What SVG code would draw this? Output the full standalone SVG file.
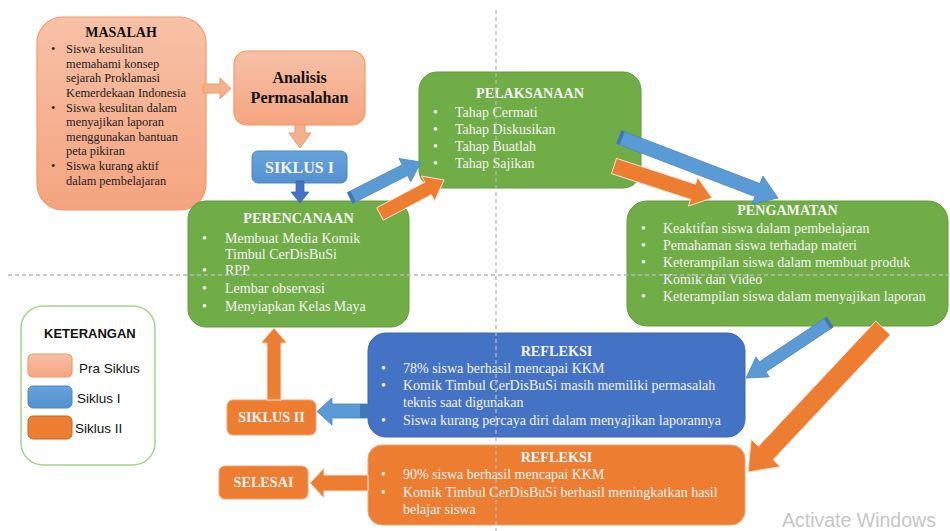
<svg xmlns="http://www.w3.org/2000/svg" width="950" height="531" viewBox="0 0 950 531">
<defs>
<linearGradient id="gPra" x1="0" y1="0" x2="0" y2="1"><stop offset="0" stop-color="#f7c1a7"/><stop offset="1" stop-color="#f4a47f"/></linearGradient>
<linearGradient id="gS1" x1="0" y1="0" x2="0" y2="1"><stop offset="0" stop-color="#67a3dc"/><stop offset="1" stop-color="#5391cf"/></linearGradient>
<style>
.pra{fill:url(#gPra);stroke:#f29a68;stroke-width:1.2}
.s1{fill:url(#gS1);stroke:#4d88c2;stroke-width:1}
.grn{fill:#70ad47;stroke:#63993e;stroke-width:1}
.blu{fill:#4472c4;stroke:#3d66b0;stroke-width:1}
.org{fill:#ed7d31;stroke:#f2a273;stroke-width:1}
.t{font-family:"Liberation Serif","Times New Roman",serif;font-size:14px;fill:#f4f4f4}
.tb{font-family:"Liberation Serif","Times New Roman",serif;font-weight:bold;fill:#f4f4f4;text-anchor:middle}
.dk{font-family:"Liberation Serif","Times New Roman",serif;font-size:12.4px;fill:#222}
.lg{font-family:"Liberation Sans",Arial,sans-serif;font-size:13.5px;fill:#111}
.aB{fill:#5b9bd5;stroke:#4a86bf;stroke-width:0.8}
.aO{fill:#ed7d31;stroke:#fbe0cf;stroke-width:1}
.aP{fill:#f4b08d;stroke:#f19a68;stroke-width:1}
.dash{stroke:#b8b8b8;stroke-width:1.3;stroke-dasharray:4 3;fill:none}
</style>
</defs>

<g id="masalah">
<rect class="pra" x="37" y="17" width="169" height="193" rx="26"/>
<text x="121" y="37" text-anchor="middle" font-family="Liberation Serif, Times New Roman, serif" font-weight="bold" font-size="14" fill="#111">MASALAH</text>
<g class="dk">
<text x="51" y="53">•</text><text x="66" y="53">Siswa kesulitan</text>
<text x="66" y="67.5">memahami konsep</text>
<text x="66" y="82">sejarah Proklamasi</text>
<text x="66" y="96.5">Kemerdekaan Indonesia</text>
<text x="51" y="111.5">•</text><text x="66" y="111.5">Siswa kesulitan dalam</text>
<text x="66" y="126">menyajikan laporan</text>
<text x="66" y="140.5">menggunakan bantuan</text>
<text x="66" y="155">peta pikiran</text>
<text x="51" y="170">•</text><text x="66" y="170">Siswa kurang aktif</text>
<text x="66" y="184.5">dalam pembelajaran</text>
</g>
</g>

<g id="analisis">
<rect class="pra" x="234" y="51" width="131" height="74" rx="13"/>
<text x="299.5" y="83" text-anchor="middle" font-family="Liberation Serif, Times New Roman, serif" font-weight="bold" font-size="16" fill="#111">Analisis</text>
<text x="299.5" y="103" text-anchor="middle" font-family="Liberation Serif, Times New Roman, serif" font-weight="bold" font-size="16" fill="#111">Permasalahan</text>
</g>

<g id="siklus1">
<rect class="s1" x="252" y="151" width="95" height="32" rx="6"/>
<text class="tb" x="299.5" y="173" font-size="16">SIKLUS I</text>
</g>

<g id="perencanaan">
<rect class="grn" x="188" y="201" width="221" height="126" rx="18"/>
<text class="tb" x="298.5" y="223" font-size="14.3">PERENCANAAN</text>
<g class="t">
<text x="202" y="243">•</text><text x="225" y="243">Membuat Media Komik</text>
<text x="225" y="259">Timbul CerDisBuSi</text>
<text x="202" y="275">•</text><text x="225" y="275">RPP</text>
<text x="202" y="293">•</text><text x="225" y="293">Lembar observasi</text>
<text x="202" y="311">•</text><text x="225" y="311">Menyiapkan Kelas Maya</text>
</g>
</g>

<g id="pelaksanaan">
<rect class="grn" x="419" y="72" width="222" height="116" rx="18"/>
<text class="tb" x="530" y="98" font-size="14.2">PELAKSANAAN</text>
<g class="t">
<text x="433" y="117">•</text><text x="455" y="117">Tahap Cermati</text>
<text x="433" y="134">•</text><text x="455" y="134">Tahap Diskusikan</text>
<text x="433" y="151">•</text><text x="455" y="151">Tahap Buatlah</text>
<text x="433" y="168">•</text><text x="455" y="168">Tahap Sajikan</text>
</g>
</g>

<g id="pengamatan">
<rect class="grn" x="627" y="201" width="321" height="125" rx="20"/>
<text class="tb" x="787.5" y="215" font-size="14.1">PENGAMATAN</text>
<g class="t">
<text x="641" y="233">•</text><text x="663" y="233">Keaktifan siswa dalam pembelajaran</text>
<text x="641" y="250">•</text><text x="663" y="250">Pemahaman siswa terhadap materi</text>
<text x="641" y="267">•</text><text x="663" y="267">Keterampilan siswa dalam membuat produk</text>
<text x="663" y="284">Komik dan Video</text>
<text x="641" y="301">•</text><text x="663" y="301">Keterampilan siswa dalam menyajikan laporan</text>
</g>
</g>

<g id="refleksi1">
<rect class="blu" x="368" y="333" width="377" height="104" rx="18"/>
<text class="tb" x="556.5" y="356" font-size="14.2">REFLEKSI</text>
<g class="t">
<text x="381" y="373">•</text><text x="403" y="373">78% siswa berhasil mencapai KKM</text>
<text x="381" y="390">•</text><text x="403" y="390">Komik Timbul CerDisBuSi masih memiliki permasalah</text>
<text x="403" y="407">teknis saat digunakan</text>
<text x="381" y="425">•</text><text x="403" y="425">Siswa kurang percaya diri dalam menyajikan laporannya</text>
</g>
</g>

<g id="refleksi2">
<rect class="org" x="368" y="445" width="377" height="80" rx="14"/>
<text class="tb" x="556.5" y="462" font-size="14.2">REFLEKSI</text>
<g class="t">
<text x="381" y="479">•</text><text x="403" y="479">90% siswa berhasil mencapai KKM</text>
<text x="381" y="497">•</text><text x="403" y="497">Komik Timbul CerDisBuSi berhasil meningkatkan hasil</text>
<text x="403" y="514">belajar siswa</text>
</g>
</g>

<g id="siklus2">
<rect class="org" x="227" y="400" width="89" height="35" rx="6"/>
<text class="tb" x="271.5" y="422" font-size="14.2">SIKLUS II</text>
</g>

<g id="selesai">
<rect class="org" x="219" y="466" width="89" height="33" rx="6"/>
<text class="tb" x="263.5" y="487" font-size="14.2">SELESAI</text>
</g>

<g id="keterangan">
<rect x="21" y="306" width="134" height="159" rx="22" fill="#fff" stroke="#a9d18e" stroke-width="1.5"/>
<text x="44" y="338" font-family="Liberation Sans, Arial, sans-serif" font-weight="bold" font-size="13" fill="#111">KETERANGAN</text>
<rect class="pra" x="28" y="354" width="44" height="23" rx="5"/>
<text class="lg" x="79" y="373">Pra Siklus</text>
<rect class="s1" x="28" y="386" width="44" height="22" rx="5"/>
<text class="lg" x="77" y="403">Siklus I</text>
<rect x="28" y="416" width="44" height="23" rx="5" fill="#ed7d31" stroke="#c9651f" stroke-width="1"/>
<text class="lg" x="75" y="433">Siklus II</text>
</g>

<g id="connectors">
<polygon class="aP" points="203,84 220,84 220,78 231,88.5 220,99 220,93 203,93"/>
<polygon class="aP" points="295,125 305,125 305,133 311,133 300,148 289,133 295,133"/>
<polygon fill="#4472c4" stroke="#3a62a8" stroke-width="0.8" points="296,181 304,181 304,192 309,192 300,203 291,192 296,192"/>
<polygon class="aB" points="352.7,203.4 407.6,175.5 410.8,181.7 421,162 399.0,158.5 402.2,164.8 347.3,192.6"/>
<polygon fill="#3f78b5" points="352.7,203.4 347.3,192.6 350.5,191 355.9,201.8"/>
<polygon class="aO" points="383.3,220.2 431.4,194.6 434.7,200.8 444,180 421.5,176.0 424.8,182.2 376.7,207.8"/>
<polygon class="aB" points="616.5,143.5 755.0,196.6 752.1,204.1 778,198 762.9,176.1 760.0,183.6 621.5,130.5"/>
<polygon fill="#3f78b5" points="616.5,143.5 621.5,130.5 624.8,131.8 619.8,144.8"/>
<polygon class="aO" points="611.5,173.6 690.5,199.4 688.4,206.1 712,198 697.6,177.5 695.5,184.2 616.5,158.4"/>
<polygon class="aB" points="826.7,317.0 759.3,361.9 756.0,356.9 746,378 769.3,376.9 765.9,371.9 833.3,327.0"/>
<polygon fill="#3f78b5" points="826.7,317.0 833.3,327.0 830.5,328.9 823.9,318.9"/>
<polygon class="aO" points="875.7,321.2 758.5,446.2 751.2,439.3 748,472 780.4,466.7 773.1,459.8 890.3,334.8"/>
<polygon class="aO" points="267,400 281,400 281,343 287,343 274,328 261,343 267,343"/>
<polygon class="aB" points="368,404 332,404 332,398 317,411.5 332,425 332,418 368,418"/>
<polygon fill="#3f78b5" points="360,404 368,404 368,418 360,418"/>
<polygon class="aO" points="368,475 324,475 324,468 310,483 324,498 324,491 368,491"/>
</g>

<g id="guides">
<line class="dash" x1="496" y1="10" x2="496" y2="531"/>
<line class="dash" x1="8" y1="275" x2="950" y2="275"/>
</g>

<text x="782" y="527" font-family="Liberation Sans, Arial, sans-serif" font-size="19.5" fill="#c6c6c6">Activate Windows</text>
</svg>
